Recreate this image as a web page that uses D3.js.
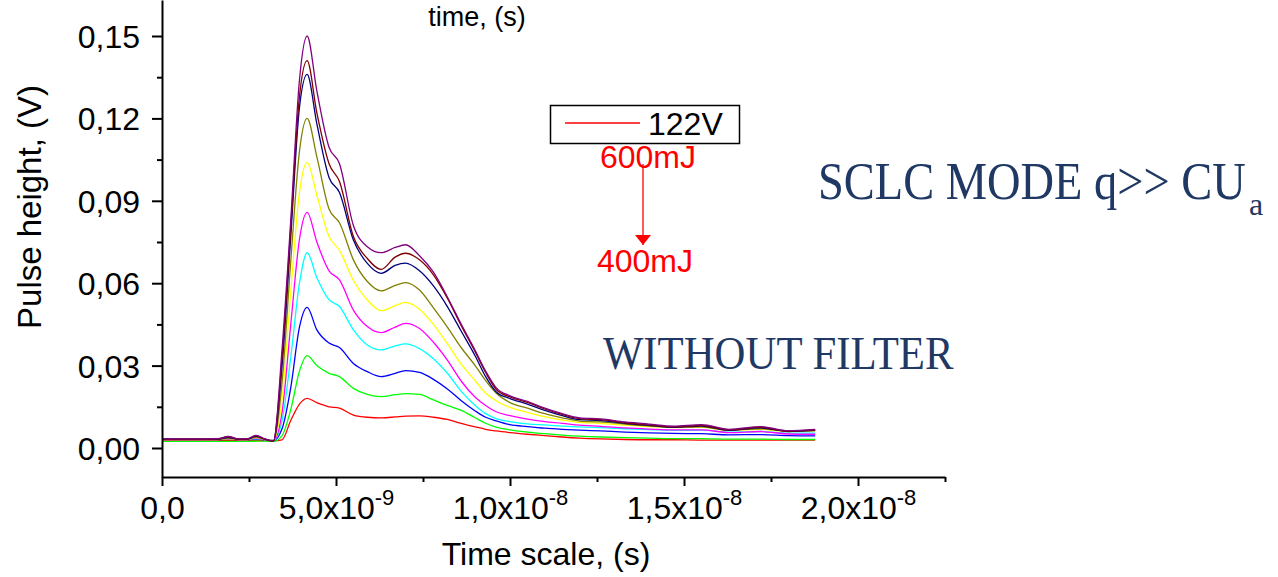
<!DOCTYPE html>
<html>
<head>
<meta charset="utf-8">
<script src="https://cdn.jsdelivr.net/npm/d3@7"></script>
<style>
  html, body { margin: 0; padding: 0; background: #fff; }
  svg { display: block; }
  .sans { font-family: "Liberation Sans", Arial, sans-serif; }
  .serif { font-family: "Liberation Serif", "Times New Roman", serif; }
</style>
</head>
<body>
<svg id="chart" width="1278" height="577"></svg>
<script>
// Sample times in nanoseconds (shared by every trace)
const timeNs = [0, 1.0, 1.6, 1.9, 2.2, 2.45, 2.7, 2.95, 3.2, 3.45, 3.7, 3.95, 4.17, 4.45, 4.8, 5.1, 5.5,
  5.9, 6.3, 6.7, 7.0, 7.4, 7.8, 8.2, 8.6, 9.0, 9.3, 9.6,
  10.0, 10.5, 11.0, 11.5, 12.0, 12.6, 13.3, 14.0, 14.7, 15.5, 16.3, 17.2, 18.0, 18.77];

// Pulse height (V), one trace per laser energy, 400 mJ (lowest) up to 600 mJ (highest)
const pulseRed = [0.0027,0.0027,0.0027,0.0027,0.0027,0.0027,0.0027,0.0027,0.0026,
  0.003,0.010,0.016,0.0181,0.0165,0.0150,0.0145,0.0120,
  0.0112,0.0110,0.0113,0.0116,0.0117,0.0112,0.0104,0.0090,0.0077,0.0068,0.0062,
  0.0056,0.0050,0.0045,0.0040,0.0036,0.0033,0.0031,0.0030,0.0030,0.0029,0.0029,0.0029,0.0029,0.0029];
const pulseGreen = [0.0024,0.0024,0.0024,0.0024,0.0024,0.0024,0.0025,0.0025,0.0024,
  0.0045,0.014,0.028,0.0336,0.030,0.0272,0.026,0.0217,
  0.0195,0.0187,0.0194,0.0198,0.0195,0.0175,0.0155,0.0137,0.0110,0.0090,0.0076,
  0.0066,0.0058,0.0052,0.0047,0.0043,0.0040,0.0038,0.0036,0.0034,0.0034,0.0032,0.0032,0.0031,0.0031];
const pulseBlue = [0.0031,0.0031,0.0031,0.0032,0.0031,0.0031,0.0032,0.0030,0.0027,
  0.007,0.022,0.044,0.0512,0.043,0.0382,0.0366,0.0308,
  0.0278,0.0260,0.0272,0.0282,0.0275,0.0250,0.0215,0.0172,0.0135,0.0112,0.0099,
  0.0085,0.0078,0.0072,0.0068,0.0065,0.0062,0.0058,0.0055,0.0053,0.0052,0.0048,0.0049,0.0045,0.0044];
const pulseCyan = [0.0033,0.0033,0.0033,0.0034,0.0032,0.0032,0.0034,0.0031,0.0028,
  0.010,0.033,0.060,0.0711,0.062,0.054,0.0515,0.043,
  0.0375,0.0357,0.0372,0.0379,0.0362,0.0325,0.0272,0.0206,0.0155,0.0125,0.0107,
  0.0096,0.0088,0.0084,0.0080,0.0077,0.0074,0.0070,0.0067,0.0064,0.0065,0.0058,0.0060,0.0054,0.0054];
const pulseMagenta = [0.0030,0.0030,0.0030,0.0033,0.0030,0.0030,0.0036,0.0030,0.0027,
  0.013,0.045,0.076,0.0858,0.075,0.0645,0.0612,0.0502,
  0.0442,0.0420,0.0440,0.0454,0.0435,0.0385,0.0320,0.0243,0.0185,0.0155,0.0132,
  0.0118,0.0105,0.0096,0.0090,0.0083,0.0079,0.0073,0.0069,0.0066,0.0066,0.0056,0.0060,0.0051,0.0050];
const pulseYellow = [0.0031,0.0031,0.0031,0.0034,0.0031,0.0031,0.0038,0.0031,0.0027,
  0.018,0.057,0.093,0.104,0.092,0.077,0.072,0.061,
  0.0539,0.0500,0.0518,0.0530,0.0505,0.0450,0.0380,0.0305,0.0245,0.0200,0.0172,
  0.0148,0.0130,0.0114,0.0102,0.0093,0.0090,0.0083,0.0078,0.0074,0.0076,0.0064,0.0068,0.0060,0.0062];
const pulseOlive = [0.0031,0.0031,0.0031,0.0036,0.0031,0.0031,0.0040,0.0031,0.0026,
  0.024,0.068,0.108,0.120,0.106,0.087,0.082,0.0685,
  0.0606,0.0572,0.0592,0.0602,0.0575,0.0510,0.0440,0.0365,0.0300,0.0245,0.0200,
  0.0165,0.0145,0.0125,0.0110,0.0098,0.0095,0.0087,0.0080,0.0075,0.0077,0.0065,0.0070,0.0062,0.0063];
const pulseNavy = [0.0032,0.0032,0.0032,0.0038,0.0032,0.0032,0.0042,0.0032,0.0025,
  0.030,0.077,0.124,0.136,0.118,0.0985,0.093,0.0757,
  0.0672,0.0636,0.0665,0.0673,0.0645,0.0590,0.0515,0.0425,0.0335,0.0260,0.0205,
  0.0180,0.0160,0.0137,0.0118,0.0103,0.0100,0.0090,0.0082,0.0075,0.0080,0.0064,0.0073,0.0060,0.0064];
const pulseMaroon = [0.0032,0.0032,0.0033,0.0041,0.0032,0.0033,0.0045,0.0033,0.0025,
  0.033,0.080,0.128,0.141,0.122,0.1035,0.097,0.077,
  0.0690,0.0650,0.0695,0.0709,0.0685,0.0630,0.0545,0.0445,0.0350,0.0275,0.0214,
  0.0186,0.0166,0.0142,0.0122,0.0107,0.0103,0.0092,0.0084,0.0077,0.0082,0.0066,0.0075,0.0061,0.0066];
const pulsePurple = [0.0033,0.0033,0.0034,0.0042,0.0033,0.0034,0.0046,0.0034,0.0025,
  0.036,0.083,0.134,0.150,0.130,0.1095,0.1035,0.081,
  0.0733,0.0711,0.0730,0.0740,0.0700,0.0640,0.0550,0.0450,0.0355,0.0280,0.0220,
  0.0190,0.0170,0.0145,0.0125,0.0110,0.0106,0.0095,0.0087,0.0080,0.0085,0.0068,0.0078,0.0063,0.0068];

const seriesValues = [pulseRed, pulseGreen, pulseBlue, pulseCyan, pulseMagenta,
  pulseYellow, pulseOlive, pulseNavy, pulseMaroon, pulsePurple];
const seriesColors = ["#ff0000", "#00ff00", "#0000ff", "#00ffff", "#ff00ff",
  "#ffff00", "#808000", "#000080", "#800000", "#800080"];

// Axis ticks
const xTickValues = [0, 5, 10, 15, 20];
const xTickMantissa = ["0,0", "5,0x10", "1,0x10", "1,5x10", "2,0x10"];
const xTickExponent = ["", "-9", "-8", "-8", "-8"];
const xMinorTicks = [2.5, 7.5, 12.5, 17.5, 22.5];
const yTickValues = [0, 0.03, 0.06, 0.09, 0.12, 0.15];
const yTickLabels = ["0,00", "0,03", "0,06", "0,09", "0,12", "0,15"];
const yMinorTicks = [0.015, 0.045, 0.075, 0.105, 0.135];

const legendLabel = "122V";
const energyHigh = "600mJ";
const energyLow = "400mJ";

const svg = d3.select("#chart");
const navyText = "#1f3864";

// Scales: plot frame from x=162..945, y=0..477
const x = d3.scaleLinear().domain([0, 22.5]).range([162, 945]);
const yBase = d3.scaleLinear().domain([0, 0.15]).range([448, 36]);
const y = d3.scaleLinear().domain([yBase.invert(477), yBase.invert(0)]).range([477, 0]);

// Traces
const line = d3.line()
  .x((d, i) => x(timeNs[i]))
  .y(d => y(d))
  .curve(d3.curveMonotoneX);

svg.append("g")
  .selectAll("path")
  .data(seriesValues)
  .join("path")
  .attr("d", d => line(d))
  .attr("fill", "none")
  .attr("stroke", (d, i) => seriesColors[i])
  .attr("stroke-width", 1.3);

// Y axis
const yAxis = svg.append("g").attr("transform", "translate(162,0)");
yAxis.call(d3.axisLeft(y).tickValues(yTickValues).tickSize(10).tickSizeOuter(0)
  .tickFormat((d, i) => yTickLabels[i]));
yAxis.append("g").call(d3.axisLeft(y).tickValues(yMinorTicks).tickSize(5).tickFormat(""))
  .select(".domain").remove();
yAxis.selectAll(".domain, line").attr("stroke", "#000").attr("stroke-width", 2);
yAxis.selectAll("text")
  .attr("class", "sans")
  .attr("font-size", 32)
  .attr("fill", "#000")
  .attr("x", -22)
  .attr("dy", "0.36em");

// X axis
const xAxis = svg.append("g").attr("transform", "translate(0,477)");
xAxis.call(d3.axisBottom(x).tickValues(xTickValues).tickSize(9).tickSizeOuter(0).tickFormat(""));
xAxis.append("g").call(d3.axisBottom(x).tickValues(xMinorTicks).tickSize(5).tickFormat(""))
  .select(".domain").remove();
xAxis.selectAll(".domain, line").attr("stroke", "#000").attr("stroke-width", 2);
xAxis.selectAll(".tick text").remove();
xAxis.selectAll(".tick").filter(d => xTickValues.includes(d)).each(function(d) {
  const i = xTickValues.indexOf(d);
  const t = d3.select(this).append("text")
    .attr("class", "sans")
    .attr("font-size", 32)
    .attr("fill", "#000")
    .attr("text-anchor", "middle")
    .attr("y", 42);
  t.append("tspan").text(xTickMantissa[i]);
  if (xTickExponent[i]) {
    t.append("tspan").attr("font-size", 22).attr("dy", -14).text(xTickExponent[i]);
  }
});

// Axis titles
svg.append("text")
  .attr("class", "sans")
  .attr("font-size", 33)
  .attr("text-anchor", "middle")
  .attr("transform", "translate(41,207) rotate(-90)")
  .text("Pulse height, (V)");
svg.append("text")
  .attr("class", "sans")
  .attr("font-size", 32)
  .attr("text-anchor", "middle")
  .attr("x", 546).attr("y", 565)
  .text("Time scale, (s)");
svg.append("text")
  .attr("class", "sans")
  .attr("font-size", 27)
  .attr("text-anchor", "middle")
  .attr("x", 477).attr("y", 26)
  .text("time, (s)");

// Legend
const legend = svg.append("g");
legend.append("rect")
  .attr("x", 550.5).attr("y", 105.5).attr("width", 189).attr("height", 38)
  .attr("fill", "#fff").attr("stroke", "#000").attr("stroke-width", 1.5);
legend.append("line")
  .attr("x1", 565).attr("x2", 640).attr("y1", 123).attr("y2", 123)
  .attr("stroke", seriesColors[0]).attr("stroke-width", 1.3);
legend.append("text")
  .attr("class", "sans").attr("font-size", 32)
  .attr("x", 648).attr("y", 135)
  .text(legendLabel);

// Energy annotation with arrow
svg.append("defs").append("marker")
  .attr("id", "arrowHead")
  .attr("viewBox", "0 0 10 16")
  .attr("refX", 10).attr("refY", 8)
  .attr("markerWidth", 10).attr("markerHeight", 16)
  .attr("markerUnits", "userSpaceOnUse")
  .attr("orient", "auto")
  .append("path")
  .attr("d", "M0,0 L10,8 L0,16 Z")
  .attr("fill", "#ff0000");
svg.append("text")
  .attr("class", "sans").attr("font-size", 32).attr("fill", "#ff0000")
  .attr("text-anchor", "middle")
  .attr("x", 648).attr("y", 168)
  .text(energyHigh);
svg.append("line")
  .attr("x1", 643).attr("x2", 643).attr("y1", 164).attr("y2", 245)
  .attr("stroke", "#ff0000").attr("stroke-width", 1.3)
  .attr("marker-end", "url(#arrowHead)");
svg.append("text")
  .attr("class", "sans").attr("font-size", 32).attr("fill", "#ff0000")
  .attr("text-anchor", "middle")
  .attr("x", 645).attr("y", 272)
  .text(energyLow);

// Mode notes (condensed serif, drawn with a horizontal scale)
svg.append("text")
  .attr("class", "serif").attr("fill", navyText)
  .attr("font-size", 52)
  .attr("transform", "translate(818,199) scale(0.893,1)")
  .text("SCLC MODE q>> CU");
svg.append("text")
  .attr("class", "serif").attr("fill", navyText)
  .attr("font-size", 32)
  .attr("x", 1249).attr("y", 215)
  .text("a");

svg.append("text")
  .attr("class", "serif").attr("fill", navyText)
  .attr("font-size", 46)
  .attr("transform", "translate(603,369) scale(0.93,1)")
  .text("WITHOUT FILTER");
</script>
</body>
</html>
